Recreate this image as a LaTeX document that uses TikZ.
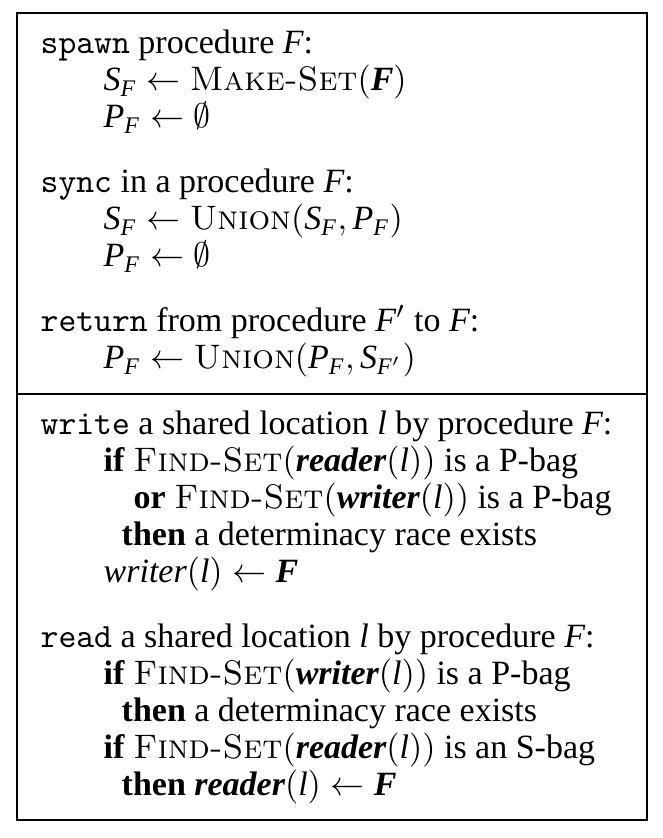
\documentclass[tikz,border=0pt]{standalone}
\usepackage{amsmath}
\usepackage{fontspec}
\setmainfont{Liberation Serif}
\newcommand\mv[1]{\text{\normalfont\itshape #1}}
\newcommand\bv[1]{\text{\normalfont\bfseries\itshape #1}}
\newcommand\proc[1]{\text{\normalfont\fontfamily{lmr}\selectfont\scshape #1}}
\tikzset{
  codeline/.style={inner sep=0pt, anchor=base west, font=\fontsize{10}{11}\selectfont},
  frame/.style={draw=black, line width=0.42pt}
}
\begin{document}
\begin{tikzpicture}[x=0.2941pt,y=0.2941pt]
\useasboundingbox (0,0) rectangle (662,-838);
\coordinate (tl) at (17,-13);
\coordinate (br) at (647,-820);
\coordinate (dl) at (17,-394);
\coordinate (dr) at (647,-394);
\draw[frame] (tl) rectangle (br);
\draw[frame] (dl) -- (dr);
% top section
\node[codeline] (l1) at (40,-54) {\texttt{spawn} procedure \mv{F}:};
\node[codeline] (l2) at (103,-91) {$\mv{S}_{\mv{F}} \leftarrow \proc{Make-Set}(\bv{F})$};
\node[codeline] (l3) at (103,-128) {$\mv{P}_{\mv{F}} \leftarrow \emptyset$};
\node[codeline] (l4) at (40,-193) {\texttt{sync} in a procedure \mv{F}:};
\node[codeline] (l5) at (103,-230) {$\mv{S}_{\mv{F}} \leftarrow \proc{Union}(\mv{S}_{\mv{F}},\mv{P}_{\mv{F}})$};
\node[codeline] (l6) at (103,-267) {$\mv{P}_{\mv{F}} \leftarrow \emptyset$};
\node[codeline] (l7) at (40,-332) {\texttt{return} from procedure $\mv{F}'$ to \mv{F}:};
\node[codeline] (l8) at (103,-369) {$\mv{P}_{\mv{F}} \leftarrow \proc{Union}(\mv{P}_{\mv{F}},\mv{S}_{\mv{F}'})$};
% bottom section
\node[codeline] (l9) at (40,-434) {\texttt{write} a shared location \mv{l} by procedure \mv{F}:};
\node[codeline] (l10) at (103,-471) {\textbf{if} $\proc{Find-Set}(\bv{reader}(\mv{l}))$ is a P-bag};
\node[codeline] (l11) at (133,-508) {\textbf{or} $\proc{Find-Set}(\bv{writer}(\mv{l}))$ is a P-bag};
\node[codeline] (l12) at (121,-545) {\textbf{then} a determinacy race exists};
\node[codeline] (l13) at (103,-582) {$\mv{writer}(\mv{l}) \leftarrow \bv{F}$};
\node[codeline] (l14) at (40,-647) {\texttt{read} a shared location \mv{l} by procedure \mv{F}:};
\node[codeline] (l15) at (103,-684) {\textbf{if} $\proc{Find-Set}(\bv{writer}(\mv{l}))$ is a P-bag};
\node[codeline] (l16) at (121,-721) {\textbf{then} a determinacy race exists};
\node[codeline] (l17) at (103,-758) {\textbf{if} $\proc{Find-Set}(\bv{reader}(\mv{l}))$ is an S-bag};
\node[codeline] (l18) at (121,-795) {\textbf{then} $\bv{reader}(\mv{l}) \leftarrow \bv{F}$};
\end{tikzpicture}
\end{document}
